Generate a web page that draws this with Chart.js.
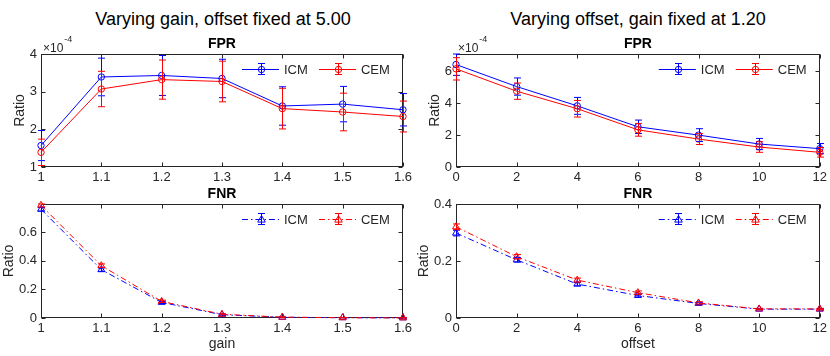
<!DOCTYPE html>
<html><head><meta charset="utf-8">
<script src="https://cdn.jsdelivr.net/npm/chart.js@4"></script>
<style>
html,body{margin:0;padding:0;background:#fff;}
#wrap{position:relative;width:830px;height:356px;overflow:hidden;font-family:'Liberation Sans',Arial,Helvetica,sans-serif;background:#fff;}
.sup{position:absolute;top:10px;font-size:18px;line-height:18px;color:#000;white-space:nowrap;transform:translateX(-50%);}
canvas{position:absolute;}
</style></head><body>
<div id="wrap">
<div class="sup" style="left:223px">Varying gain, offset fixed at 5.00</div>
<div class="sup" style="left:638px">Varying offset, gain fixed at 1.20</div>
<canvas id="c1" width="415" height="160" style="left:0;top:30px"></canvas>
<canvas id="c2" width="415" height="160" style="left:415px;top:30px"></canvas>
<canvas id="c3" width="415" height="176" style="left:0;top:180px"></canvas>
<canvas id="c4" width="415" height="176" style="left:415px;top:180px"></canvas>
</div>
<script>
// ---------- data ----------
const gain = [1, 1.1, 1.2, 1.3, 1.4, 1.5, 1.6];
const offsetVals = [0, 2, 4, 6, 8, 10, 12];
const gainTickLabels = ['1', '1.1', '1.2', '1.3', '1.4', '1.5', '1.6'];
const offsetTickLabels = ['0', '2', '4', '6', '8', '10', '12'];

// FPR values in units of 1e-4
const fprGainICM = [1.57, 3.39, 3.43, 3.35, 2.62, 2.67, 2.52];
const fprGainICMErr = [0.40, 0.50, 0.53, 0.51, 0.51, 0.47, 0.43];
const fprGainCEM = [1.39, 3.07, 3.32, 3.27, 2.55, 2.46, 2.34];
const fprGainCEMErr = [0.35, 0.47, 0.52, 0.54, 0.54, 0.50, 0.41];

const fprOffICM = [6.42, 5.04, 3.83, 2.52, 2.00, 1.44, 1.15];
const fprOffICMErr = [0.68, 0.54, 0.53, 0.42, 0.40, 0.35, 0.32];
const fprOffCEM = [6.15, 4.75, 3.65, 2.33, 1.75, 1.25, 0.92];
const fprOffCEMErr = [0.70, 0.51, 0.52, 0.40, 0.34, 0.33, 0.30];

const fnrGainICM = [0.758, 0.337, 0.109, 0.023, 0.005, 0.002, 0.001];
const fnrGainICMErr = [0.012, 0.012, 0.008, 0.004, 0.002, 0.001, 0.001];
const fnrGainCEM = [0.786, 0.365, 0.116, 0.026, 0.006, 0.002, 0.001];
const fnrGainCEMErr = [0.012, 0.012, 0.008, 0.004, 0.002, 0.001, 0.001];

const fnrOffICM = [0.298, 0.204, 0.119, 0.079, 0.051, 0.031, 0.031];
const fnrOffICMErr = [0.010, 0.008, 0.006, 0.005, 0.004, 0.002, 0.002];
const fnrOffCEM = [0.320, 0.215, 0.133, 0.089, 0.053, 0.032, 0.032];
const fnrOffCEMErr = [0.010, 0.008, 0.007, 0.006, 0.004, 0.002, 0.002];

const fprGainYTicks = [1, 2, 3, 4];
const fprGainYLabels = ['1', '2', '3', '4'];
const fprOffYTicks = [0, 2, 4, 6];
const fprOffYLabels = ['0', '2', '4', '6'];
const fnrGainYTicks = [0, 0.2, 0.4, 0.6];
const fnrGainYLabels = ['0', '0.2', '0.4', '0.6'];
const fnrOffYTicks = [0, 0.2, 0.4];
const fnrOffYLabels = ['0', '0.2', '0.4'];

const seriesNames = ['ICM', 'CEM'];

// ---------- styling ----------
const FONT = "'Liberation Sans', Arial, Helvetica, sans-serif";
const AX = '#262626';
const BLUE = '#0000ff', RED = '#ff0000';
const CAP = 3.5;
const DASHDOT = [6, 3, 1.5, 3];
Chart.defaults.font.family = FONT;
Chart.defaults.color = AX;

function pts(xs, ys) { return xs.map((x, i) => ({ x: x, y: ys[i] })); }

function drawMarker(ctx, style, r, x, y, color) {
  ctx.save();
  ctx.setLineDash([]);
  ctx.strokeStyle = color; ctx.lineWidth = 1;
  ctx.beginPath();
  if (style === 'circle') {
    ctx.arc(x, y, r, 0, Math.PI * 2);
  } else {
    ctx.moveTo(x, y - r);
    ctx.lineTo(x + r * 0.95, y + r * 0.65);
    ctx.lineTo(x - r * 0.95, y + r * 0.65);
    ctx.closePath();
  }
  ctx.stroke();
  ctx.restore();
}

const matlabPlugin = {
  id: 'matlab',
  beforeDatasetsDraw(chart, args, opts) {
    const ctx = chart.ctx, a = chart.chartArea, xs = chart.scales.x, ys = chart.scales.y;
    ctx.save();
    // axes box with inward ticks
    ctx.strokeStyle = AX; ctx.lineWidth = 1; ctx.setLineDash([]);
    const L = Math.round(a.left) + 0.5, R = Math.round(a.right) - 0.5;
    const T = Math.round(a.top) + 0.5, B = Math.round(a.bottom) - 0.5;
    ctx.strokeRect(L, T, R - L, B - T);
    ctx.beginPath();
    xs.ticks.forEach(t => {
      const px = Math.round(xs.getPixelForValue(t.value)) + 0.5;
      ctx.moveTo(px, B); ctx.lineTo(px, B - 4);
      ctx.moveTo(px, T); ctx.lineTo(px, T + 4);
    });
    ys.ticks.forEach(t => {
      const py = Math.round(ys.getPixelForValue(t.value)) + 0.5;
      ctx.moveTo(L, py); ctx.lineTo(L + 4, py);
      ctx.moveTo(R, py); ctx.lineTo(R - 4, py);
    });
    ctx.stroke();
    // subplot title
    ctx.fillStyle = '#000';
    ctx.font = 'bold 14px ' + FONT;
    ctx.textAlign = 'center'; ctx.textBaseline = 'alphabetic';
    ctx.fillText(opts.title, (a.left + a.right) / 2, a.top - 6);
    // exponent
    if (opts.exponent) {
      ctx.fillStyle = AX;
      ctx.textAlign = 'left';
      ctx.font = '12px ' + FONT;
      ctx.fillText('\u00d710', a.left + 2, a.top - 2);
      const w = ctx.measureText('\u00d710').width;
      ctx.font = '9px ' + FONT;
      ctx.fillText(opts.exponent, a.left + 2 + w + 1, a.top - 12);
    }
    ctx.restore();
  },
  afterDatasetsDraw(chart, args, opts) {
    const ctx = chart.ctx, a = chart.chartArea, xs = chart.scales.x, ys = chart.scales.y;
    ctx.save();
    // error bars
    chart.data.datasets.forEach((ds) => {
      const err = ds.errors; if (!err) return;
      ctx.strokeStyle = ds.borderColor; ctx.lineWidth = 1; ctx.setLineDash([]);
      ds.data.forEach((p, i) => {
        const px = Math.round(xs.getPixelForValue(p.x)) + 0.5;
        const yt = Math.max(a.top, ys.getPixelForValue(p.y + err[i]));
        const yb = ys.getPixelForValue(p.y - err[i]);
        ctx.beginPath();
        ctx.moveTo(px, yt); ctx.lineTo(px, yb);
        ctx.moveTo(px - CAP, yt); ctx.lineTo(px + CAP, yt);
        ctx.moveTo(px - CAP, yb); ctx.lineTo(px + CAP, yb);
        ctx.stroke();
      });
    });
    // legend
    ctx.font = '13px ' + FONT;
    ctx.textBaseline = 'middle'; ctx.textAlign = 'left';
    const ly = a.top + 15;
    chart.data.datasets.forEach((ds, i) => {
      const x0 = a.right - 161 + i * 77;
      ctx.strokeStyle = ds.borderColor; ctx.lineWidth = 1;
      ctx.setLineDash(ds.borderDash || []);
      ctx.beginPath(); ctx.moveTo(x0, ly + 0.5); ctx.lineTo(x0 + 37, ly + 0.5); ctx.stroke();
      ctx.setLineDash([]);
      const cx = Math.round(x0 + 19) + 0.5;
      ctx.beginPath();
      ctx.moveTo(cx, ly - 5.5); ctx.lineTo(cx, ly + 5.5);
      ctx.moveTo(cx - CAP, ly - 5.5); ctx.lineTo(cx + CAP, ly - 5.5);
      ctx.moveTo(cx - CAP, ly + 5.5); ctx.lineTo(cx + CAP, ly + 5.5);
      ctx.stroke();
      drawMarker(ctx, ds.pointStyle, ds.pointRadius, cx, ly + 0.5, ds.borderColor);
      ctx.fillStyle = AX;
      ctx.fillText(ds.label, x0 + 42, ly + 1);
    });
    ctx.restore();
  }
};

function series(label, xs, ys, err, color, style, dash, order) {
  return {
    label: label, data: pts(xs, ys), errors: err,
    borderColor: color, borderWidth: 1, borderDash: dash,
    pointStyle: style, pointRadius: style === 'circle' ? 3.2 : 4,
    pointBorderColor: color, pointBackgroundColor: 'rgba(0,0,0,0)', pointBorderWidth: 1,
    tension: 0, fill: false, clip: false, order: order
  };
}

function makeChart(id, o) {
  return new Chart(document.getElementById(id), {
    type: 'line',
    data: { datasets: o.datasets },
    options: {
      responsive: false, animation: false, events: [],
      layout: { padding: { top: 24, right: 9, left: 0, bottom: 0 } },
      plugins: {
        legend: { display: false }, tooltip: { enabled: false },
        matlab: { title: o.title, exponent: o.exponent }
      },
      scales: {
        x: {
          type: 'linear', min: o.xMin, max: o.xMax,
          grid: { display: false, drawTicks: false }, border: { display: false },
          afterBuildTicks: s => { s.ticks = o.xTicks.map(v => ({ value: v })); },
          afterFit: s => { s.height = o.xh; },
          ticks: { callback: (v, i) => o.xLabels[i], padding: 3, font: { size: 13 }, color: AX, maxRotation: 0, autoSkip: false },
          title: o.xTitle ? { display: true, text: o.xTitle, font: { size: 14 }, color: AX, padding: { top: 0, bottom: 3.6 } } : { display: false }
        },
        y: {
          type: 'linear', min: o.yMin, max: o.yMax,
          grid: { display: false, drawTicks: false }, border: { display: false },
          afterBuildTicks: s => { s.ticks = o.yTicks.map(v => ({ value: v })); },
          afterFit: s => { s.width = 41; },
          ticks: { callback: (v, i) => o.yLabels[i], padding: 4, font: { size: 13 }, color: AX, autoSkip: false },
          title: { display: true, text: 'Ratio', font: { size: 14 }, color: AX, padding: { top: o.ytp, bottom: 0 } }
        }
      }
    },
    plugins: [matlabPlugin]
  });
}

makeChart('c1', {
  title: 'FPR', exponent: '-4',
  datasets: [
    series(seriesNames[0], gain, fprGainICM, fprGainICMErr, BLUE, 'circle', [], 1),
    series(seriesNames[1], gain, fprGainCEM, fprGainCEMErr, RED, 'circle', [], 0)
  ],
  xMin: 1, xMax: 1.6, xTicks: gain, xLabels: gainTickLabels, xh: 23,
  yMin: 1, yMax: 4, yTicks: fprGainYTicks, yLabels: fprGainYLabels, ytp: 11.6
});
makeChart('c2', {
  title: 'FPR', exponent: '-4',
  datasets: [
    series(seriesNames[0], offsetVals, fprOffICM, fprOffICMErr, BLUE, 'circle', [], 1),
    series(seriesNames[1], offsetVals, fprOffCEM, fprOffCEMErr, RED, 'circle', [], 0)
  ],
  xMin: 0, xMax: 12, xTicks: offsetVals, xLabels: offsetTickLabels, xh: 23,
  yMin: 0, yMax: 7.08, yTicks: fprOffYTicks, yLabels: fprOffYLabels, ytp: 11.6
});
makeChart('c3', {
  title: 'FNR',
  datasets: [
    series(seriesNames[0], gain, fnrGainICM, fnrGainICMErr, BLUE, 'triangle', DASHDOT, 1),
    series(seriesNames[1], gain, fnrGainCEM, fnrGainCEMErr, RED, 'triangle', DASHDOT, 0)
  ],
  xMin: 1, xMax: 1.6, xTicks: gain, xLabels: gainTickLabels, xh: 38, xTitle: 'gain',
  yMin: 0, yMax: 0.795, yTicks: fnrGainYTicks, yLabels: fnrGainYLabels, ytp: 1.1
});
makeChart('c4', {
  title: 'FNR',
  datasets: [
    series(seriesNames[0], offsetVals, fnrOffICM, fnrOffICMErr, BLUE, 'triangle', DASHDOT, 1),
    series(seriesNames[1], offsetVals, fnrOffCEM, fnrOffCEMErr, RED, 'triangle', DASHDOT, 0)
  ],
  xMin: 0, xMax: 12, xTicks: offsetVals, xLabels: offsetTickLabels, xh: 38, xTitle: 'offset',
  yMin: 0, yMax: 0.4, yTicks: fnrOffYTicks, yLabels: fnrOffYLabels, ytp: 1.1
});
</script>
</body></html>
